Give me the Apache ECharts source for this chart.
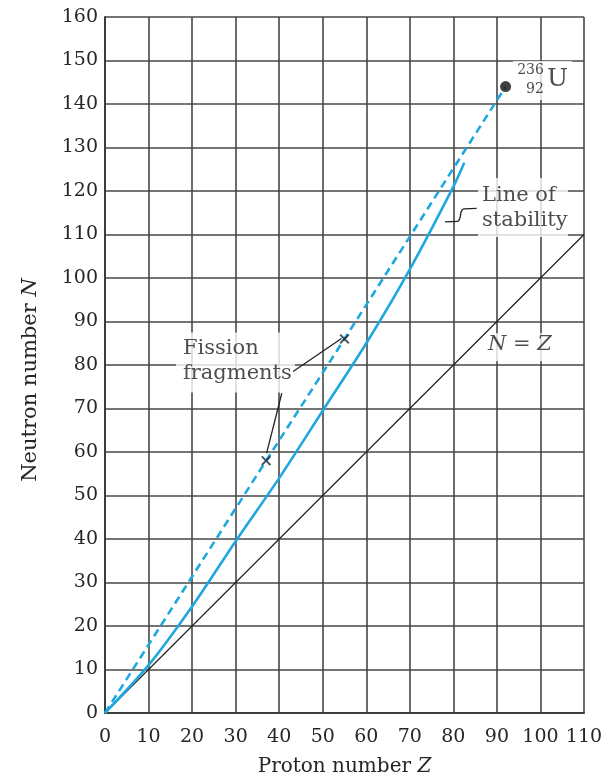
<!DOCTYPE html>
<html>
<head>
<meta charset="utf-8">
<script src="https://cdn.jsdelivr.net/npm/echarts@6/dist/echarts.min.js"></script>
<style>
  html, body { margin: 0; padding: 0; background: #fff; }
  #chart { width: 616px; height: 777px; }
</style>
</head>
<body>
<div id="chart"></div>
<script>
// ---- data ----
// line of stability (proton number Z, neutron number N)
const stabilityZ = [0, 10, 20, 30, 40, 50, 60, 70, 80, 82.5];
const stabilityN = [0, 11, 24.5, 39.5, 54, 69.5, 85, 102, 121, 126.5];

// fission fragments of 236U
const fragmentZ = [37, 55];
const fragmentN = [58, 86];

// compound nucleus 236/92 U
const uraniumZ = [92];
const uraniumN = [144];

// N = Z reference line
const equalZ = [0, 110];
const equalN = [0, 110];

// axis ranges
const zRange = [0, 110];
const nRange = [0, 160];

// ---- styling / annotation layout ----
const SERIF = 'DejaVu Serif';
const BLUE = '#1fa8e0';
const INK = '#222';

const pairs = (xs, ys) => xs.map((x, i) => [x, ys[i]]);

// line through origin, both fragments and the uranium nucleus
const dashedPts = [[0, 0]].concat(pairs(fragmentZ, fragmentN), pairs(uraniumZ, uraniumN))
  .sort((a, b) => a[0] - b[0]);

// white backing boxes behind the annotation text [Z, N, width, height]
const boxes = [
  [100.46, 145.4, 59, 39],
  [95.98, 116.2, 90, 59],
  [29.97, 80.6, 119, 60],
  [96.3, 84.1, 72, 28]
];

// leader lines
const leaderUpper = [[43.2, 78.5], [54.3, 86.1]];
const leaderLower = [[40.6, 73.5], [37.1, 59.7]];
const leaderStability = [[78.07, 112.9], [80.9, 113.0], [81.5, 113.8], [81.8, 115.2], [82.4, 115.9], [85.35, 116.0]];

const italic = { fontStyle: 'italic', fontFamily: SERIF };

const notes = [
  { value: [86.57, 116.0], label: { formatter: 'Line of\nstability', align: 'left', fontSize: 21, lineHeight: 25 } },
  { value: [17.9, 80.9], label: { formatter: 'Fission\nfragments', align: 'left', fontSize: 21, lineHeight: 25 } },
  { value: [95.3, 84.8], label: { formatter: '{i|N} = {i|Z}', align: 'center', fontSize: 21,
      rich: { i: Object.assign({ fontSize: 21, color: INK }, italic) } } },
  { value: [100.8, 147.8], label: { formatter: '236', align: 'right', fontSize: 14 } },
  { value: [100.8, 143.4], label: { formatter: '92', align: 'right', fontSize: 14 } },
  { value: [101.5, 145.7], label: { formatter: 'U', align: 'left', fontSize: 25 } }
];

const leaderSeries = (pts, smooth) => ({
  type: 'line', z: 3, silent: true, symbol: 'none', smooth: smooth ? 0.5 : false,
  lineStyle: { color: INK, width: 1.3 }, data: pts
});

const chart = echarts.init(document.getElementById('chart'), null, { renderer: 'canvas' });

const axisCommon = {
  type: 'value',
  interval: 10,
  nameLocation: 'middle',
  axisLine: { show: true, onZero: false, lineStyle: { color: '#3c3c3c', width: 2 } },
  axisTick: { show: false },
  axisLabel: { fontFamily: SERIF, fontSize: 19, color: '#262626' },
  splitLine: { show: true, lineStyle: { color: '#474747', width: 1.6 } },
  nameTextStyle: {
    fontFamily: SERIF, fontSize: 20, color: '#262626',
    rich: { i: Object.assign({ fontSize: 20, color: '#262626' }, italic) }
  }
};

chart.setOption({
  animation: false,
  backgroundColor: '#fff',
  grid: { left: 105, top: 17, width: 479, height: 696, outerBoundsMode: 'none', containLabel: false },
  xAxis: Object.assign({}, axisCommon, {
    min: zRange[0], max: zRange[1],
    name: 'Proton number {i|Z}',
    nameGap: 44,
    axisLabel: Object.assign({}, axisCommon.axisLabel, { margin: 15 })
  }),
  yAxis: Object.assign({}, axisCommon, {
    min: nRange[0], max: nRange[1],
    name: 'Neutron number {i|N}',
    nameRotate: 90,
    nameGap: 64,
    nameTextStyle: Object.assign({}, axisCommon.nameTextStyle, { fontSize: 21, padding: [0, 30, 0, 0],
      rich: { i: Object.assign({ fontSize: 21, color: '#262626' }, italic) } }),
    axisLabel: Object.assign({}, axisCommon.axisLabel, { margin: 7 })
  }),
  series: [
    {
      // white boxes behind annotation text
      type: 'scatter', z: 1, silent: true, symbolSize: 0,
      data: boxes.map(b => ({
        value: [b[0], b[1]],
        label: {
          show: true, position: 'inside', formatter: ' ',
          width: b[2], height: b[3], backgroundColor: '#fff', padding: 0
        }
      }))
    },
    {
      name: 'N = Z', type: 'line', z: 3, silent: true, symbol: 'none',
      lineStyle: { color: '#222', width: 1.2 },
      data: pairs(equalZ, equalN)
    },
    {
      name: 'Line of stability', type: 'line', z: 3, silent: true, symbol: 'none', smooth: 0.3,
      lineStyle: { color: BLUE, width: 2.6 },
      data: pairs(stabilityZ, stabilityN)
    },
    {
      name: 'Fission line', type: 'line', z: 3, silent: true, symbol: 'none',
      lineStyle: { color: BLUE, width: 2.6, type: [8, 5] },
      data: dashedPts
    },
    leaderSeries(leaderUpper, false),
    leaderSeries(leaderLower, false),
    leaderSeries(leaderStability, true),
    {
      name: 'Fission fragments', type: 'scatter', z: 4, silent: true,
      symbol: 'path://M0,1.4L1.4,0L5,3.6L8.6,0L10,1.4L6.4,5L10,8.6L8.6,10L5,6.4L1.4,10L0,8.6L3.6,5Z',
      symbolSize: 10,
      itemStyle: { color: '#1c2a3a' },
      data: pairs(fragmentZ, fragmentN)
    },
    {
      name: 'Uranium 236', type: 'scatter', z: 4, silent: true,
      symbol: 'circle', symbolSize: 11,
      itemStyle: { color: '#111' },
      data: pairs(uraniumZ, uraniumN)
    },
    {
      // annotation text
      type: 'scatter', z: 5, silent: true, symbolSize: 0,
      data: notes.map(n => ({
        value: n.value,
        label: Object.assign({
          show: true, position: [0, 0], verticalAlign: 'middle',
          fontFamily: SERIF, color: INK
        }, n.label)
      }))
    }
  ]
});
</script>
</body>
</html>
